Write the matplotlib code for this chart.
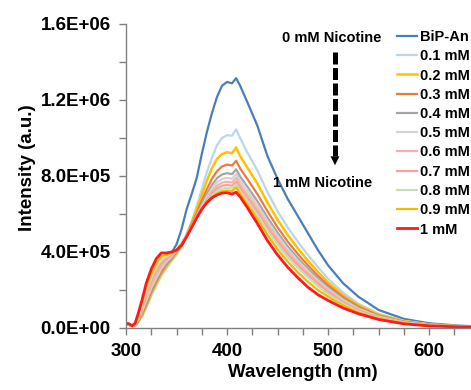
import matplotlib
matplotlib.use("Agg")
import matplotlib.pyplot as plt
from matplotlib.ticker import MultipleLocator, FuncFormatter

plt.rcParams['font.family'] = ['Liberation Sans', 'DejaVu Sans']
plt.rcParams['font.weight'] = 'bold'

# wavelength grid (nm) and intensities (x1e6 a.u.)
wavelength = [300, 303, 306, 309, 312, 316, 320, 325, 330, 335, 340, 345, 350, 355,
              360, 365, 370, 375, 380, 385, 390, 395, 400, 405, 409, 413, 420, 430,
              440, 450, 460, 470, 480, 490, 500, 515, 530, 550, 575, 600, 630, 660, 700]

bip_an = [0.020, 0.016, 0.010, 0.014, 0.035, 0.075, 0.125, 0.195, 0.255, 0.305, 0.350, 0.395, 0.440, 0.520,
          0.625, 0.705, 0.790, 0.915, 1.030, 1.130, 1.215, 1.275, 1.295, 1.288, 1.315, 1.275, 1.190, 1.065,
          0.905, 0.785, 0.680, 0.590, 0.500, 0.410, 0.330, 0.235, 0.165, 0.095, 0.048, 0.025, 0.012, 0.007, 0.003]
nic_01 = [0.020, 0.016, 0.010, 0.013, 0.030, 0.062, 0.105, 0.170, 0.225, 0.275, 0.315, 0.350, 0.385, 0.430,
          0.490, 0.560, 0.640, 0.730, 0.820, 0.895, 0.960, 1.000, 1.015, 1.012, 1.045, 1.000, 0.925, 0.830,
          0.715, 0.615, 0.530, 0.455, 0.385, 0.320, 0.260, 0.185, 0.128, 0.075, 0.038, 0.020, 0.010, 0.006, 0.003]
nic_02 = [0.022, 0.018, 0.010, 0.014, 0.033, 0.068, 0.115, 0.180, 0.235, 0.285, 0.325, 0.360, 0.395, 0.435,
          0.490, 0.555, 0.625, 0.700, 0.775, 0.840, 0.890, 0.915, 0.925, 0.920, 0.950, 0.905, 0.845, 0.760,
          0.660, 0.570, 0.490, 0.420, 0.355, 0.295, 0.240, 0.172, 0.120, 0.070, 0.036, 0.018, 0.009, 0.005, 0.003]
nic_03 = [0.022, 0.018, 0.010, 0.015, 0.036, 0.075, 0.125, 0.190, 0.245, 0.295, 0.335, 0.365, 0.400, 0.440,
          0.490, 0.545, 0.605, 0.670, 0.730, 0.785, 0.825, 0.850, 0.860, 0.855, 0.880, 0.840, 0.785, 0.705,
          0.615, 0.530, 0.455, 0.390, 0.330, 0.275, 0.225, 0.162, 0.112, 0.065, 0.033, 0.017, 0.009, 0.005, 0.003]
nic_04 = [0.023, 0.019, 0.011, 0.016, 0.040, 0.082, 0.135, 0.200, 0.255, 0.305, 0.340, 0.370, 0.405, 0.442,
          0.490, 0.540, 0.595, 0.650, 0.705, 0.752, 0.788, 0.808, 0.815, 0.810, 0.835, 0.797, 0.745, 0.668,
          0.582, 0.502, 0.430, 0.368, 0.312, 0.260, 0.213, 0.153, 0.106, 0.062, 0.031, 0.016, 0.008, 0.005, 0.003]
nic_05 = [0.023, 0.019, 0.011, 0.017, 0.045, 0.090, 0.145, 0.212, 0.265, 0.315, 0.350, 0.375, 0.408, 0.444,
          0.490, 0.537, 0.588, 0.640, 0.690, 0.733, 0.766, 0.784, 0.790, 0.786, 0.810, 0.773, 0.722, 0.646,
          0.562, 0.485, 0.415, 0.355, 0.300, 0.250, 0.205, 0.147, 0.101, 0.059, 0.030, 0.015, 0.008, 0.005, 0.003]
nic_06 = [0.024, 0.020, 0.011, 0.018, 0.050, 0.100, 0.160, 0.228, 0.280, 0.327, 0.360, 0.380, 0.410, 0.445,
          0.490, 0.535, 0.583, 0.632, 0.678, 0.718, 0.748, 0.765, 0.770, 0.766, 0.790, 0.753, 0.702, 0.627,
          0.545, 0.469, 0.401, 0.342, 0.289, 0.240, 0.196, 0.140, 0.096, 0.056, 0.028, 0.014, 0.007, 0.005, 0.003]
nic_07 = [0.024, 0.020, 0.011, 0.019, 0.055, 0.110, 0.175, 0.245, 0.300, 0.342, 0.368, 0.385, 0.410, 0.445,
          0.488, 0.533, 0.579, 0.625, 0.668, 0.705, 0.733, 0.749, 0.753, 0.749, 0.770, 0.736, 0.685, 0.610,
          0.528, 0.454, 0.388, 0.330, 0.278, 0.231, 0.188, 0.134, 0.092, 0.053, 0.027, 0.013, 0.007, 0.004, 0.002]
nic_08 = [0.025, 0.021, 0.012, 0.020, 0.060, 0.122, 0.192, 0.262, 0.318, 0.360, 0.376, 0.390, 0.410, 0.443,
          0.486, 0.532, 0.580, 0.624, 0.663, 0.695, 0.720, 0.734, 0.738, 0.734, 0.755, 0.721, 0.670, 0.594,
          0.512, 0.438, 0.372, 0.316, 0.266, 0.220, 0.178, 0.127, 0.087, 0.050, 0.025, 0.012, 0.006, 0.004, 0.002]
nic_09 = [0.025, 0.021, 0.012, 0.022, 0.068, 0.135, 0.212, 0.285, 0.340, 0.378, 0.386, 0.395, 0.410, 0.440,
          0.484, 0.531, 0.580, 0.625, 0.660, 0.688, 0.708, 0.720, 0.724, 0.720, 0.740, 0.706, 0.653, 0.575,
          0.490, 0.415, 0.350, 0.294, 0.244, 0.200, 0.165, 0.118, 0.082, 0.048, 0.024, 0.012, 0.006, 0.004, 0.002]
nic_10 = [0.025, 0.022, 0.012, 0.025, 0.075, 0.150, 0.235, 0.310, 0.365, 0.395, 0.395, 0.400, 0.410, 0.435,
          0.480, 0.530, 0.580, 0.625, 0.660, 0.685, 0.700, 0.710, 0.712, 0.705, 0.715, 0.690, 0.635, 0.550,
          0.460, 0.385, 0.320, 0.265, 0.215, 0.175, 0.145, 0.105, 0.075, 0.045, 0.022, 0.011, 0.006, 0.004, 0.002]

labels = ['BiP-An', '0.1 mM', '0.2 mM', '0.3 mM', '0.4 mM', '0.5 mM',
          '0.6 mM', '0.7 mM', '0.8 mM', '0.9 mM', '1 mM']
series = [bip_an, nic_01, nic_02, nic_03, nic_04, nic_05,
          nic_06, nic_07, nic_08, nic_09, nic_10]
colors = ['#4a7ebb', '#bcd5ee', '#ffc000', '#e97c3c', '#a5a5a5', '#d4d4d4',
          '#f6b3ad', '#f4a49c', '#c6e0b4', '#f7b900', '#ff1a1a']
widths = [1.6, 1.6, 1.8, 1.6, 1.6, 1.6, 1.6, 1.6, 1.6, 1.6, 2.0]

fig = plt.figure(figsize=(4.71, 3.90), dpi=100)
ax = fig.add_axes([126 / 471, 62 / 390, 0.858, 304 / 390])

for vals, lab, c, lw in zip(series, labels, colors, widths):
    ax.plot(wavelength, [v * 1e6 for v in vals], color=c, lw=lw, label=lab)

ax.set_xlim(300, 700)
ax.set_ylim(0, 1.6e6)
ax.set_xticks([300, 400, 500, 600])
ax.xaxis.set_minor_locator(MultipleLocator(25))
ax.yaxis.set_major_locator(MultipleLocator(4e5))
ax.yaxis.set_minor_locator(MultipleLocator(2e5))
ax.yaxis.set_major_formatter(FuncFormatter(lambda v, p: f"{v:.1E}"))

for s in ['top', 'right']:
    ax.spines[s].set_visible(False)
for s in ['left', 'bottom']:
    ax.spines[s].set_color('#808080')
    ax.spines[s].set_linewidth(1.0)
ax.tick_params(which='both', direction='out', color='#808080', width=1.0)
ax.tick_params(which='major', length=5, labelsize=13.5, pad=6)
ax.tick_params(which='minor', length=5)
for t in ax.get_xticklabels() + ax.get_yticklabels():
    t.set_fontweight('bold')

ax.set_xlabel('Wavelength (nm)', fontsize=13.5, fontweight='bold', labelpad=3)
ax.set_ylabel('Intensity (a.u.)', fontsize=13.5, fontweight='bold', labelpad=3)
ax.xaxis.label.set_x(0.437)
ax.yaxis.label.set_y(0.526)

# legend kept inside the canvas (the source image crops it at the right edge)
fig.legend(loc='upper left', bbox_to_anchor=(397 / 471, 1 - 30 / 390), frameon=False,
           prop={'size': 10.5, 'weight': 'bold'}, handlelength=1.4, handletextpad=0.2,
           labelspacing=0.36, borderpad=0, borderaxespad=0)

# annotation: dashed arrow from 0 mM to 1 mM
fig.text(332 / 471, 1 - 38 / 390, '0 mM Nicotine', ha='center', va='center',
         fontsize=10.5, fontweight='bold')
fig.text(323 / 471, 1 - 183 / 390, '1 mM Nicotine', ha='center', va='center',
         fontsize=10.5, fontweight='bold')
xa = 335 / 471
fig.add_artist(plt.Line2D([xa, xa], [1 - 52 / 390, 1 - 156 / 390], color='black', lw=3.6,
                          linestyle=(0, (2.4, 0.7)), solid_capstyle='butt', dash_capstyle='butt'))
fig.add_artist(matplotlib.patches.FancyArrowPatch((xa, 1 - 152 / 390), (xa, 1 - 168 / 390),
                                                  transform=fig.transFigure, arrowstyle='-|>',
                                                  mutation_scale=16, color='black', lw=0))

fig.savefig('out.png', dpi=100)
